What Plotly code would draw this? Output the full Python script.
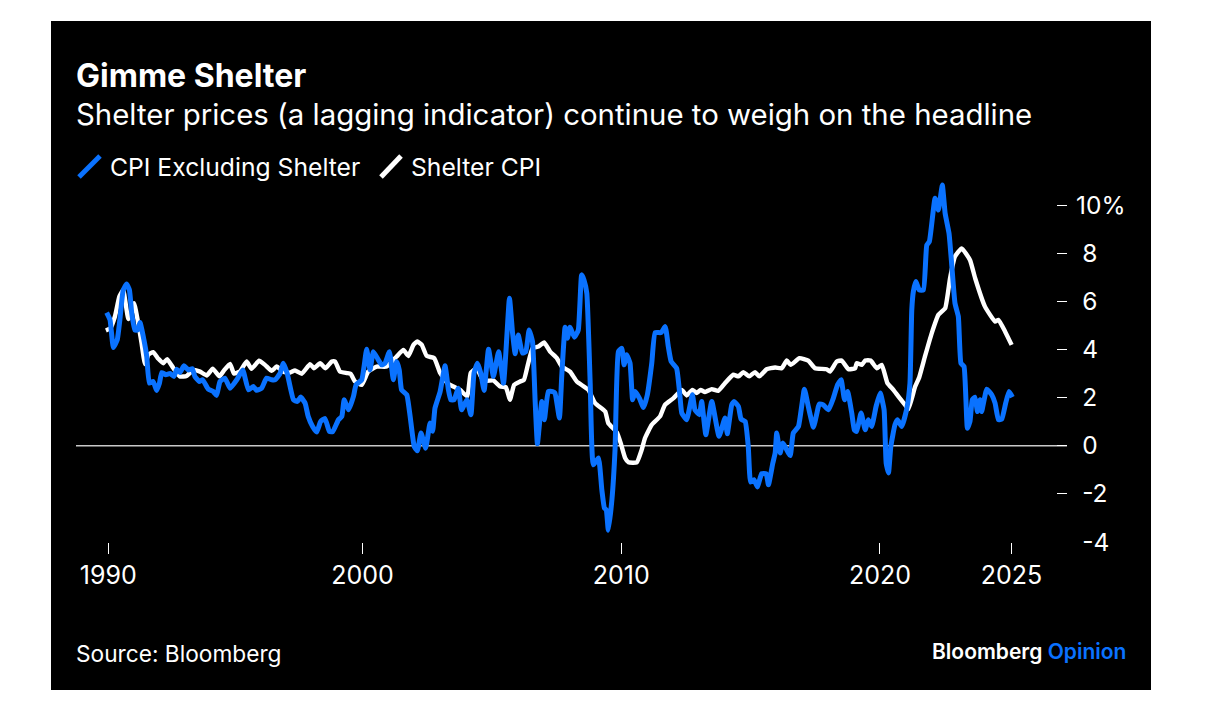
import plotly.graph_objects as go

# Values (decimal years, % y/y)
ex_shelter_years = [
    1990.11, 1990.24, 1990.37, 1990.52, 1990.62, 1990.75, 1990.88, 1990.99, 1991.08, 1991.20,
    1991.30, 1991.40, 1991.55, 1991.66, 1991.76, 1991.91, 1992.04, 1992.15, 1992.24, 1992.40,
    1992.56, 1992.71, 1992.82, 1992.94, 1993.10, 1993.27, 1993.42, 1993.52, 1993.69, 1993.82,
    1994.04, 1994.23, 1994.36, 1994.49, 1994.68, 1994.88, 1995.14, 1995.37, 1995.59, 1995.78,
    1995.91, 1996.10, 1996.29, 1996.49, 1996.62, 1996.81, 1996.94, 1997.09, 1997.33, 1997.48,
    1997.61, 1997.78, 1997.90, 1998.07, 1998.23, 1998.38, 1998.55, 1998.72, 1998.85, 1999.07,
    1999.20, 1999.29, 1999.46, 1999.65, 1999.75, 1999.97, 2000.16, 2000.29, 2000.42, 2000.61,
    2000.74, 2000.87, 2001.04, 2001.19, 2001.32, 2001.42, 2001.51, 2001.71, 2001.84, 2002.00,
    2002.12, 2002.26, 2002.44, 2002.61, 2002.71, 2002.80, 2003.00, 2003.19, 2003.32, 2003.41,
    2003.54, 2003.70, 2003.83, 2004.03, 2004.19, 2004.31, 2004.44, 2004.57, 2004.70, 2004.87,
    2005.06, 2005.26, 2005.45, 2005.68, 2005.80, 2005.90, 2006.02, 2006.18, 2006.31, 2006.44,
    2006.57, 2006.67, 2006.76, 2006.93, 2007.03, 2007.18, 2007.35, 2007.44, 2007.61, 2007.70,
    2007.83, 2007.92, 2008.02, 2008.19, 2008.34, 2008.47, 2008.56, 2008.67, 2008.80, 2008.92,
    2009.12, 2009.25, 2009.35, 2009.42, 2009.50, 2009.64, 2009.76, 2009.89, 2010.02, 2010.11,
    2010.21, 2010.34, 2010.44, 2010.54, 2010.70, 2010.86, 2011.01, 2011.18, 2011.31, 2011.54,
    2011.70, 2011.82, 2011.93, 2012.14, 2012.27, 2012.34, 2012.53, 2012.75, 2012.85, 2013.02,
    2013.11, 2013.27, 2013.50, 2013.78, 2014.01, 2014.10, 2014.27, 2014.36, 2014.53, 2014.63,
    2014.79, 2014.91, 2015.00, 2015.13, 2015.26, 2015.43, 2015.60, 2015.69, 2015.86, 2015.95,
    2016.01, 2016.14, 2016.24, 2016.33, 2016.53, 2016.65, 2016.85, 2017.08, 2017.23, 2017.43,
    2017.62, 2017.66, 2017.81, 2018.01, 2018.20, 2018.36, 2018.50, 2018.63, 2018.75, 2018.91,
    2019.01, 2019.10, 2019.27, 2019.43, 2019.55, 2019.68, 2019.85, 2020.01, 2020.16, 2020.24,
    2020.33, 2020.42, 2020.58, 2020.68, 2020.84, 2021.04, 2021.16, 2021.23, 2021.29, 2021.39,
    2021.52, 2021.68, 2021.81, 2021.91, 2022.13, 2022.26, 2022.41, 2022.52, 2022.67, 2022.77,
    2022.90, 2023.03, 2023.13, 2023.25, 2023.38, 2023.48, 2023.57, 2023.67, 2023.77, 2023.87,
    2023.93, 2024.13, 2024.32, 2024.45, 2024.58, 2024.71, 2024.86, 2024.99, 2025.12,
]
ex_shelter_values = [
    5.53, 5.23, 4.08, 4.40, 5.23, 6.47, 6.72, 6.47, 5.50, 4.81,
    4.81, 5.12, 4.40, 3.70, 2.60, 2.67, 2.30, 2.60, 3.04, 2.95,
    3.00, 2.88, 3.18, 3.04, 3.32, 3.15, 3.20, 2.88, 2.67, 2.74,
    2.35, 2.25, 2.09, 2.67, 2.81, 2.39, 2.74, 3.15, 2.32, 2.46,
    2.30, 2.39, 2.81, 2.74, 2.74, 3.00, 3.43, 3.00, 1.91, 1.84,
    2.02, 1.77, 1.22, 0.80, 0.57, 1.01, 1.13, 0.59, 0.59, 1.08,
    1.22, 1.91, 1.49, 2.05, 2.53, 2.74, 4.01, 3.15, 3.91, 3.57,
    3.36, 3.43, 3.91, 2.74, 3.50, 3.15, 2.32, 2.12, 1.22, -0.03,
    -0.21, 0.53, -0.10, 0.94, 0.60, 1.56, 2.25, 3.32, 2.32, 1.91,
    1.91, 2.39, 1.49, 1.91, 1.29, 3.02, 3.43, 3.02, 2.30, 4.01,
    2.88, 3.91, 2.60, 6.13, 4.67, 3.82, 4.60, 3.85, 3.91, 4.81,
    4.33, 1.91, 0.08, 1.84, 1.08, 2.25, 2.25, 2.19, 1.15, 2.88,
    4.92, 4.47, 4.92, 4.51, 4.81, 7.10, 6.89, 6.33, 2.60, -0.79,
    -0.51, -1.83, -2.59, -2.66, -3.51, -2.24, -0.17, 3.91, 4.05, 3.36,
    3.78, 3.43, 1.91, 2.25, 1.98, 1.59, 2.12, 3.43, 4.70, 4.70,
    4.95, 4.12, 3.50, 3.22, 2.05, 1.36, 1.08, 2.12, 1.49, 1.29,
    1.84, 0.46, 1.84, 0.39, 1.15, 0.50, 1.70, 1.84, 1.63, 1.11,
    1.01, -0.03, -1.51, -1.41, -1.71, -1.16, -1.16, -1.62, -0.72, -0.30,
    0.53, -0.30, 0.11, -0.03, -0.41, 0.53, 0.80, 2.35, 1.63, 0.77,
    1.63, 1.74, 1.70, 1.49, 1.98, 2.53, 2.74, 1.91, 2.25, 1.36,
    0.66, 0.59, 1.36, 0.66, 1.08, 0.80, 1.63, 2.19, 1.49, -0.72,
    -1.13, -0.03, 0.87, 1.08, 0.80, 1.56, 2.60, 5.64, 6.40, 6.82,
    6.47, 6.47, 8.34, 8.48, 10.28, 9.79, 10.83, 9.65, 8.82, 7.58,
    5.92, 5.37, 3.43, 3.29, 0.73, 1.01, 1.91, 2.02, 1.42, 1.91,
    1.42, 2.35, 2.12, 1.77, 1.08, 1.11, 1.77, 2.25, 2.02,
]

shelter_years = [
    1990.08, 1990.25, 1990.43, 1990.60, 1990.75, 1990.95, 1991.17, 1991.33, 1991.46, 1991.59,
    1991.72, 1991.91, 1992.11, 1992.30, 1992.45, 1992.69, 1992.94, 1993.20, 1993.46, 1993.72,
    1993.98, 1994.21, 1994.47, 1994.66, 1994.88, 1995.03, 1995.26, 1995.52, 1995.71, 1996.00,
    1996.23, 1996.49, 1996.68, 1996.94, 1997.20, 1997.39, 1997.65, 1997.97, 1998.12, 1998.36,
    1998.57, 1998.81, 1998.94, 1999.13, 1999.39, 1999.54, 1999.71, 1999.97, 2000.22, 2000.55,
    2000.93, 2001.32, 2001.58, 2001.77, 2001.97, 2002.12, 2002.29, 2002.48, 2002.77, 2003.00,
    2003.28, 2003.51, 2003.77, 2004.05, 2004.18, 2004.41, 2004.61, 2004.80, 2005.06, 2005.32,
    2005.54, 2005.70, 2005.86, 2006.09, 2006.24, 2006.39, 2006.57, 2006.80, 2007.02, 2007.25,
    2007.51, 2007.70, 2008.02, 2008.28, 2008.73, 2008.99, 2009.38, 2009.50, 2009.83, 2009.98,
    2010.15, 2010.28, 2010.60, 2010.79, 2010.92, 2011.18, 2011.50, 2011.69, 2012.02, 2012.34,
    2012.53, 2012.75, 2012.92, 2013.07, 2013.24, 2013.50, 2013.75, 2014.01, 2014.33, 2014.53,
    2014.72, 2014.95, 2015.17, 2015.34, 2015.62, 2015.95, 2016.20, 2016.40, 2016.55, 2016.89,
    2017.23, 2017.49, 2017.94, 2018.07, 2018.33, 2018.52, 2018.78, 2019.04, 2019.10, 2019.30,
    2019.43, 2019.64, 2019.88, 2020.07, 2020.29, 2020.52, 2020.71, 2020.97, 2021.10, 2021.36,
    2021.52, 2021.74, 2022.00, 2022.26, 2022.52, 2022.71, 2022.90, 2023.16, 2023.48, 2023.68,
    2024.06, 2024.45, 2024.58, 2024.84, 2025.09,
]
shelter_values = [
    4.79, 4.88, 5.37, 6.20, 6.47, 5.26, 5.92, 5.09, 4.26, 3.39,
    3.78, 3.89, 3.61, 3.43, 3.60, 3.22, 2.88, 2.90, 3.15, 3.08,
    2.92, 3.20, 2.88, 3.15, 3.40, 3.00, 3.08, 3.50, 3.20, 3.53,
    3.36, 3.11, 3.29, 3.08, 3.04, 3.13, 2.99, 3.39, 3.22, 3.43,
    3.22, 3.50, 3.50, 3.08, 3.02, 2.99, 2.67, 2.53, 3.08, 3.29,
    3.29, 3.71, 3.98, 3.73, 4.19, 4.33, 4.19, 3.73, 3.64, 3.02,
    2.60, 2.46, 2.32, 2.05, 3.02, 3.22, 2.81, 2.70, 2.71, 2.46,
    2.43, 1.91, 2.53, 2.67, 2.74, 3.36, 4.05, 4.12, 4.29, 3.91,
    3.64, 3.29, 3.08, 2.67, 2.32, 1.77, 1.42, 0.94, 0.55, 0.11,
    -0.51, -0.69, -0.69, -0.17, 0.32, 0.87, 1.22, 1.70, 1.98, 2.32,
    2.09, 2.32, 2.19, 2.32, 2.23, 2.35, 2.28, 2.60, 2.95, 2.88,
    3.06, 2.88, 3.06, 2.88, 3.18, 3.25, 3.22, 3.54, 3.36, 3.64,
    3.54, 3.22, 3.18, 3.08, 3.50, 3.54, 3.18, 3.22, 3.43, 3.36,
    3.54, 3.54, 3.22, 3.36, 2.60, 2.32, 2.05, 1.70, 1.52, 2.46,
    2.85, 3.71, 4.67, 5.44, 5.71, 6.96, 7.86, 8.20, 7.72, 6.96,
    5.78, 5.16, 5.23, 4.74, 4.19,
]

x_tick_vals = [1990.17, 2000, 2010, 2020, 2025.08]
x_tick_text = ["1990", "2000", "2010", "2020", "2025"]
y_tick_vals = [-4, -2, 0, 2, 4, 6, 8, 10]
y_tick_text = ["\u2005-4", "\u2005-2", "\u20050", "\u20052", "\u20054", "\u20056", "\u20058", "10%"]

BLUE = "#0a72ff"
FONT = "Inter"
# the page keeps an 8px body margin around the figure
PAGE_W, PAGE_H, BODY = 1228, 709, 8
W, H = PAGE_W - 2 * BODY, PAGE_H - 2 * BODY
# plot area in page pixels
L, R, T, B = 76, 1067, 181, 542


def px(x):
    return (x - L) / (R - L)


def py(y):
    return (B - y) / (B - T)


def label(fig, x, y, text, size, anchor="left", weight=400):
    fig.add_annotation(xref="paper", yref="paper", x=px(x), y=py(y), text=text, showarrow=False,
                       xanchor=anchor, yanchor="middle", borderpad=0,
                       font=dict(family=FONT, size=size, color="white", weight=weight))


fig = go.Figure()

fig.add_trace(go.Scatter(x=shelter_years, y=shelter_values, mode="lines", name="Shelter CPI",
                         line=dict(color="white", width=4.4, shape="spline", smoothing=0.4), cliponaxis=False))
fig.add_trace(go.Scatter(x=ex_shelter_years, y=ex_shelter_values, mode="lines", name="CPI Excluding Shelter",
                         line=dict(color=BLUE, width=5, shape="spline", smoothing=0.4), cliponaxis=False))

# black card behind everything
fig.add_shape(type="rect", xref="paper", yref="paper", x0=px(51), x1=px(1151), y0=py(690), y1=py(21),
              fillcolor="black", line_width=0, layer="below")
# zero line
fig.add_shape(type="line", xref="paper", yref="y", x0=0, x1=1, y0=0, y1=0,
              line=dict(color="#c9c9c9", width=1.5), layer="below")
# legend keys
fig.add_shape(type="line", xref="paper", yref="paper", x0=px(79), x1=px(100), y0=py(177), y1=py(156),
              line=dict(color=BLUE, width=5))
fig.add_shape(type="line", xref="paper", yref="paper", x0=px(381), x1=px(401), y0=py(177), y1=py(156),
              line=dict(color="white", width=5))

label(fig, 75, 76, "Gimme Shelter", 32, weight=700)
label(fig, 75, 114, "Shelter prices (a lagging indicator) continue to weigh on the headline", 29.4)
label(fig, 109, 167, "CPI Excluding Shelter", 24.7)
label(fig, 410, 167, "Shelter CPI", 24.7)
label(fig, 75, 653, "Source: Bloomberg", 22.7)
label(fig, 1127, 651, f"Bloomberg <span style='color:{BLUE}'>Opinion</span>", 21, anchor="right", weight=600)

fig.update_layout(
    width=W, height=H,
    margin=dict(l=L - BODY, r=PAGE_W - BODY - R, t=T - BODY, b=PAGE_H - BODY - B, pad=0),
    paper_bgcolor="white",
    plot_bgcolor="rgba(0,0,0,0)",
    showlegend=False,
    font=dict(family=FONT, color="white"),
    xaxis=dict(range=[1988.925, 2027.23], tickmode="array", tickvals=x_tick_vals, ticktext=x_tick_text,
               showgrid=False, zeroline=False, showline=False, ticks="outside", ticklen=11,
               tickwidth=1, tickcolor="white", tickfont=dict(size=25, color="white")),
    yaxis=dict(range=[-4, 11], side="right", tickmode="array", tickvals=y_tick_vals, ticktext=y_tick_text,
               showgrid=False, zeroline=False, showline=False, ticks="inside", ticklen=10,
               tickwidth=1, tickcolor="white", ticklabelstandoff=8, tickfont=dict(size=24.5, color="white")),
)

fig.write_html("out.html")
